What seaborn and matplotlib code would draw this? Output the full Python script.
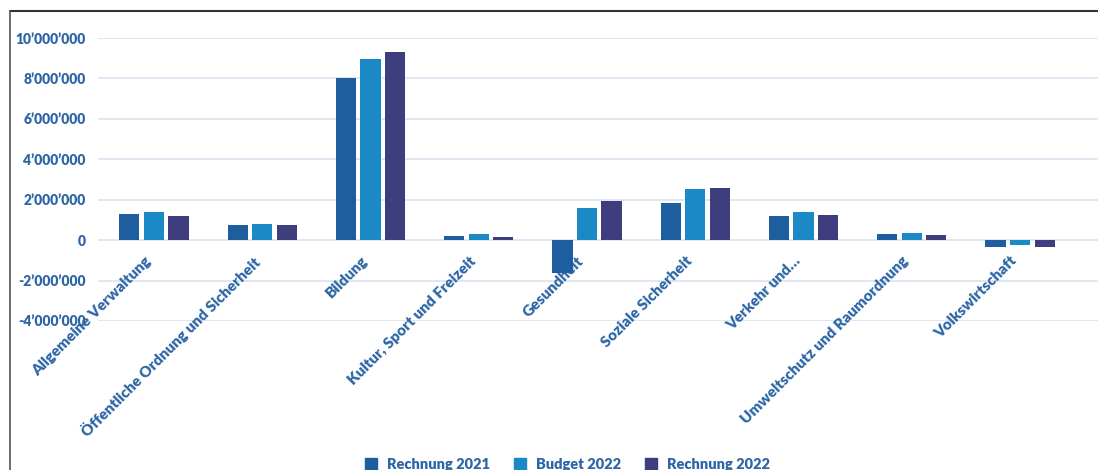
import matplotlib
matplotlib.use("Agg")
import matplotlib.pyplot as plt
import matplotlib.ticker as mticker
import matplotlib.transforms as mtransforms
from matplotlib.lines import Line2D
import seaborn as sns
import pandas as pd

categories = ["Allgemeine Verwaltung", "Öffentliche Ordnung und Sicherheit", "Bildung",
              "Kultur, Sport und Freizeit", "Gesundheit", "Soziale Sicherheit",
              "Verkehr und…", "Umweltschutz und Raumordnung", "Volkswirtschaft"]
series = ["Rechnung 2021", "Budget 2022", "Rechnung 2022"]
rechnung_2021 = [1290000, 740000, 8020000, 200000, -1650000, 1820000, 1190000, 280000, -330000]
budget_2022 = [1370000, 790000, 8960000, 280000, 1600000, 2510000, 1400000, 350000, -230000]
rechnung_2022 = [1200000, 740000, 9300000, 170000, 1950000, 2560000, 1220000, 230000, -330000]
yticks = [-4000000, -2000000, 0, 2000000, 4000000, 6000000, 8000000, 10000000]

colors = ["#1f5e9e", "#1a89c5", "#3e3e7e"]
text_color = "#2d66a6"

sns.set_theme(style="white")
plt.rcParams["font.family"] = ["Lato", "DejaVu Sans"]
plt.rcParams["font.weight"] = "heavy"

df = pd.DataFrame({
    "Kategorie": categories * 3,
    "Serie": [s for s in series for _ in categories],
    "Wert": rechnung_2021 + budget_2022 + rechnung_2022,
})

fig = plt.figure(figsize=(10.98, 4.70), dpi=100)
ax = fig.add_axes([98 / 1098, 1 - 321 / 470, 1000 / 1098, (321 - 38) / 470])

sns.barplot(data=df, x="Kategorie", y="Wert", hue="Serie", palette=colors,
            saturation=1, width=0.68, gap=0.18, ax=ax, legend=False,
            edgecolor="none", zorder=3)

ax.set_ylim(-4000000, 10000000)
ax.set_xlim(-0.517, 8.72)
ax.set_yticks(yticks)
ax.yaxis.set_major_formatter(mticker.FuncFormatter(
    lambda v, p: f"{int(v):,}".replace(",", "’")))
ax.grid(axis="y", color="#dbe3f0", linewidth=1.2)
ax.grid(axis="x", visible=False)
ax.yaxis.set_zorder(0.5)
ax.xaxis.set_zorder(1.0)
for s in ax.spines.values():
    s.set_visible(False)
ax.spines["bottom"].set_position(("data", 0))
ax.set_xlabel("")
ax.set_ylabel("")
ax.tick_params(axis="y", length=0, pad=9, labelsize=10, labelcolor=text_color)
ax.tick_params(axis="x", length=0, pad=10, labelsize=11, labelcolor=text_color)
ax.set_xticks(range(len(categories)))
ax.set_xticklabels(categories, rotation=45, ha="right", rotation_mode="anchor",
                   fontweight="heavy", color=text_color)
offset = mtransforms.ScaledTranslation(-10 / 100, 0, fig.dpi_scale_trans)
for lab in ax.get_xticklabels():
    lab.set_transform(lab.get_transform() + offset)

handles = [Line2D([0], [0], marker="s", linestyle="none", markersize=8,
                  markerfacecolor=c, markeredgecolor=c) for c in colors]
fig.legend(handles, series, loc="lower center", bbox_to_anchor=(0.513, -0.03),
           ncol=3, frameon=False, handletextpad=0.05, columnspacing=1.1,
           prop={"weight": "heavy", "size": 10.5}, labelcolor=text_color)

# outer frame (top and left edges)
fig.add_artist(Line2D([10 / 1098, 1.0], [1 - 11 / 470, 1 - 11 / 470],
                      transform=fig.transFigure, color="#333333", linewidth=1.5))
fig.add_artist(Line2D([10 / 1098, 10 / 1098], [0, 1 - 11 / 470],
                      transform=fig.transFigure, color="#555555", linewidth=1.2))

fig.savefig("out.png", dpi=100)
